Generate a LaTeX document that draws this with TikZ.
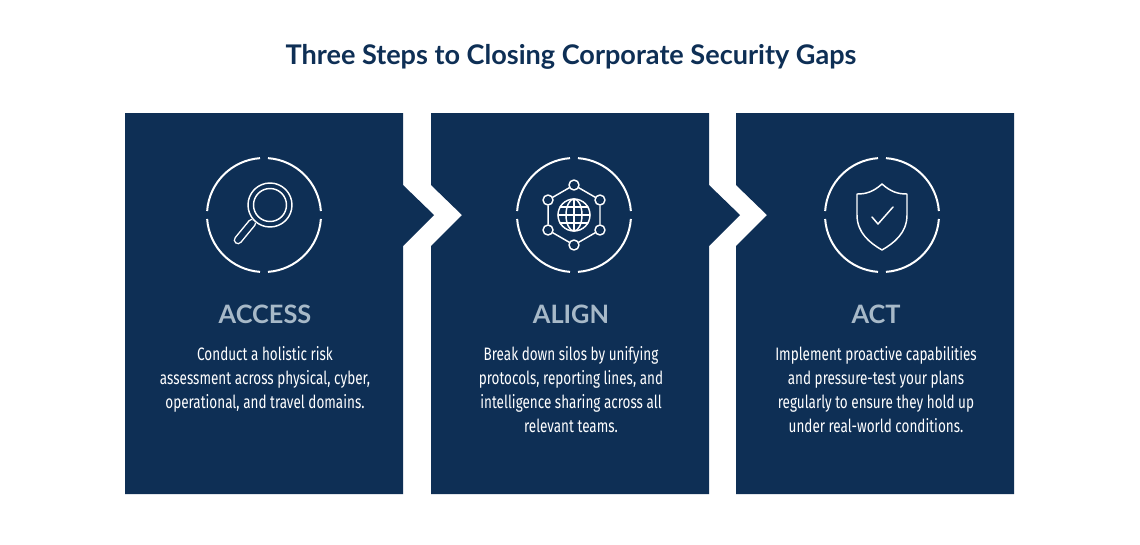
\documentclass[tikz,border=0pt]{standalone}
\usepackage{fontspec}
\setmainfont{Fira Sans}[FakeStretch=0.75]
\newfontfamily\titlefont{Lato}
\definecolor{navy}{HTML}{0E2F55}
\definecolor{steel}{HTML}{A7B9C8}
\begin{document}
\begin{tikzpicture}[x=0.75pt,y=-0.75pt,
  panel/.style={fill=navy,draw=none},
  ring/.style={draw=white,line width=1.5pt},
  ico/.style={draw=white,line width=1.1pt,line join=round,line cap=round},
  head/.style={text=steel,font=\titlefont\bfseries\fontsize{19}{22}\selectfont,anchor=center},
  body/.style={text=white,font=\fontsize{13.5}{18}\selectfont,align=center,anchor=north}]
\useasboundingbox (0,0) rectangle (1140,544);
\fill[white] (0,0) rectangle (1140,544);
\node[text=navy,font=\titlefont\bfseries\fontsize{20.3}{24}\selectfont] (title) at (571,57) {Three Steps to Closing Corporate Security Gaps};
% panels
\fill[panel] (125,113) -- (403,113) -- (403,185) -- (434,215) -- (403,246) -- (403,494) -- (125,494) -- cycle;
\fill[panel] (431,113) -- (709,113) -- (709,185) -- (740,215) -- (709,246) -- (709,494) -- (431,494) -- (431,246) -- (462,215) -- (431,185) -- cycle;
\fill[panel] (736,113) -- (1014,113) -- (1014,494) -- (736,494) -- (736,246) -- (767,215) -- (736,185) -- cycle;
% rings
\foreach \cx in {264,574,882}{
  \foreach \a in {0,90,180,270}{
    \draw[ring] ({\cx+57*cos(\a+4)},{215-57*sin(\a+4)}) arc[start angle=-(\a+4),end angle=-(\a+86),radius=57];
  }
}
% magnifier
\draw[white,line width=6.5pt,line cap=round] (252,223) -- (238,240);
\draw[navy,line width=4.3pt,line cap=round] (252,223) -- (238,240);
\fill[navy] (270,205) circle (23);
\draw[ico] (270,205) circle (22);
\draw[ico] (270,205) circle (16.5);
% globe network
\coordinate (g) at (574,215);
\foreach \a in {30,90,...,330}{ \coordinate (h\a) at ({574+30*cos(\a)},{215-30*sin(\a)}); }
\draw[ico] (h90) -- (h30) -- (h330) -- (h270) -- (h210) -- (h150) -- cycle;
\foreach \a in {30,90,...,330}{ \fill[navy] (h\a) circle (5.5); \draw[ico] (h\a) circle (5); }
\fill[navy] (g) circle (18);
\draw[ico] (g) circle (16);
\draw[ico] (574,199) -- (574,231);
\draw[ico] (g) ellipse [x radius=8,y radius=16];
\draw[ico] (560,207) -- (588,207); \draw[ico] (558,215) -- (590,215); \draw[ico] (560,223) -- (588,223);
% shield
\draw[ico] (882,184) .. controls (873,192) and (866,194) .. (857,194) -- (857,215) .. controls (857,233) and (870,243) .. (882,250) .. controls (894,243) and (907,233) .. (907,215) -- (907,194) .. controls (898,194) and (891,192) .. (882,184) -- cycle;
\draw[ico] (872,217) -- (878,224) -- (893,207);
% headings
\node[head] (h1) at (265,314) {ACCESS};
\node[head] (h2) at (571,314) {ALIGN};
\node[head] (h3) at (876,314) {ACT};
\node[body] (b1) at (265,342) {Conduct a holistic risk\\assessment across physical, cyber,\\operational, and travel domains.};
\node[body] (b2) at (571,342) {Break down silos by unifying\\protocols, reporting lines, and\\intelligence sharing across all\\relevant teams.};
\node[body] (b3) at (876,342) {Implement proactive capabilities\\and pressure-test your plans\\regularly to ensure they hold up\\under real-world conditions.};
\end{tikzpicture}
\end{document}
